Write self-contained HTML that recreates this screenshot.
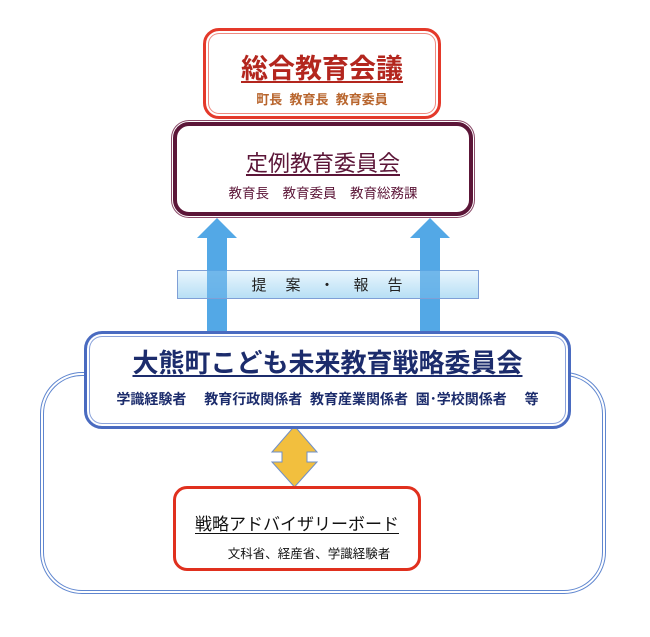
<!DOCTYPE html>
<html><head><meta charset="utf-8"><style>
body{margin:0;width:650px;height:637px;background:#fff;position:relative;overflow:hidden;font-family:"Liberation Sans","Noto Sans CJK JP",sans-serif}
.a{position:absolute;box-sizing:border-box}
.t{position:absolute;left:0;right:0;text-align:center;white-space:nowrap}
</style></head><body>
<div class="a" style="left:40px;top:372px;width:566px;height:222px;border:4px double #5f86cf;border-radius:42px"></div>

<div class="a" style="left:203px;top:28px;width:238px;height:91px;border:3px solid #e4392a;border-radius:16px;background:#fff;box-shadow:inset 0 0 0 2px #fff,inset 0 0 0 3px #ef8a80">
 <div class="t" style="top:16px;font-size:27px;font-weight:bold;color:#b3261e;"><span style="text-decoration:underline;text-underline-offset:3px">総合教育会議</span></div>
 <div class="t" style="top:58px;font-size:13px;font-weight:bold;color:#b8652d">町長&nbsp; 教育長&nbsp; 教育委員</div>
</div>

<div class="a" style="left:173px;top:122px;width:300px;height:94px;border:4px solid #5c1638;border-radius:16px;background:#fff;box-shadow:0 0 0 1px #fff,0 0 0 2px #8a4a68">
 <div class="t" style="top:20px;font-size:22px;color:#5c1638"><span style="text-decoration:underline;text-underline-offset:3px">定例教育委員会</span></div>
 <div class="t" style="top:56px;font-size:13.5px;color:#5c1638">教育長　教育委員　教育総務課</div>
</div>

<svg class="a" style="left:0;top:0" width="650" height="637">
 <polygon points="217,218 237,238 227,238 227,334 207,334 207,238 197,238" fill="#53a8e6"/>
 <polygon points="430,218 450,238 440,238 440,334 420,334 420,238 410,238" fill="#53a8e6"/>
 <defs><linearGradient id="g" x1="0" y1="0" x2="0" y2="1"><stop offset="0" stop-color="#eaf6fd"/><stop offset="1" stop-color="#b7dff5"/></linearGradient></defs>
 <rect x="177.5" y="270.5" width="301" height="28" fill="url(#g)" stroke="#7f9fd6"/>
 <polygon points="207,270 227,270 227,298 207,298" fill="#53a8e6" opacity="0.8"/>
 <polygon points="420,270 440,270 440,298 420,298" fill="#53a8e6" opacity="0.8"/>
 <text x="328" y="290" font-size="15" text-anchor="middle" fill="#222" font-family="Liberation Sans, Noto Sans CJK JP, sans-serif" letter-spacing="2">提　案　・　報　告</text>
 <polygon points="294.5,426 317,452 307,452 307,462 317,462 294.5,487 272,462 282,462 282,452 272,452" fill="#f2bf3e" stroke="#6f8fc7" stroke-width="1"/>
</svg>

<div class="a" style="left:84px;top:331px;width:487px;height:98px;border:3px solid #4a6bc0;border-radius:18px;background:#fff;box-shadow:inset 0 0 0 2px #fff,inset 0 0 0 3px #8aa2da">
 <div class="t" style="top:9px;font-size:26px;font-weight:bold;color:#1c2c6c"><span style="text-decoration:underline;text-underline-offset:3px">大熊町こども未来教育戦略委員会</span></div>
 <div class="t" style="top:55px;font-size:14px;font-weight:bold;color:#1c2c6c">学識経験者　 教育行政関係者&nbsp; 教育産業関係者&nbsp; 園･学校関係者　 等</div>
</div>

<div class="a" style="left:173px;top:486px;width:248px;height:85px;border:3px solid #e0301e;border-radius:14px;background:#fff">
 <div class="t" style="top:21px;font-size:17px;color:#111"><span style="text-decoration:underline;text-underline-offset:3px">戦略アドバイザリーボード</span></div>
 <div class="t" style="top:54px;left:24px;font-size:12.5px;color:#111">文科省、経産省、学識経験者</div>
</div>
</body></html>
